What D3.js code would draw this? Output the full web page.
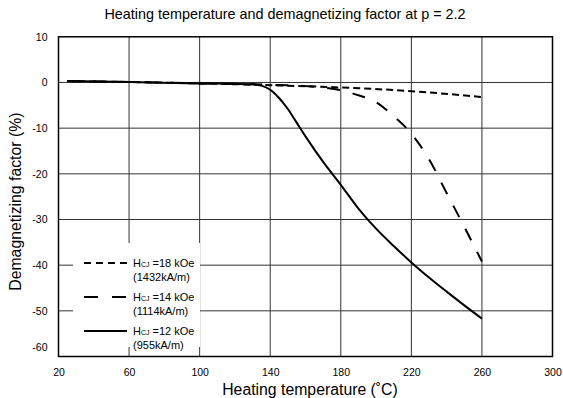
<!DOCTYPE html>
<html>
<head>
<meta charset="utf-8">
<script src="https://cdn.jsdelivr.net/npm/d3@7"></script>
<style>
  html, body { margin: 0; padding: 0; background: #fff; }
  svg { display: block; font-family: "Liberation Sans", Arial, sans-serif; }
</style>
</head>
<body>
<svg id="chart" width="563" height="398"></svg>
<script>
// ---- data ----
const xTicks = [20, 60, 100, 140, 180, 220, 260, 300];
const yTicks = [10, 0, -10, -20, -30, -40, -50, -60];

const temps18 = [25, 60, 100, 140, 180, 220, 260];
const vals18  = [0.3, 0.1, -0.2, -0.6, -1.1, -1.9, -3.2];

const temps14 = [25, 60, 100, 140, 160, 170, 180, 190, 200, 210, 220, 230, 240, 250, 260];
const vals14  = [0.3, 0.1, -0.2, -0.5, -0.8, -1.1, -1.7, -2.8, -4.3, -7.4, -11.2, -16.8, -24.2, -31.6, -39.2];

const temps12 = [25, 60, 100, 120, 130, 135, 140, 145, 150, 155, 160, 170, 180, 190, 200, 210, 220, 230, 240, 250, 260];
const vals12  = [0.3, 0.1, -0.2, -0.3, -0.4, -0.7, -1.6, -3.4, -5.8, -8.8, -11.8, -17.4, -22.4, -27.6, -32.0, -35.8, -39.4, -42.7, -45.8, -48.8, -51.7];

const legendMain = ["=18 kOe", "=14 kOe", "=12 kOe"];
const legendSub  = ["(1432kA/m)", "(1114kA/m)", "(955kA/m)"];

const title = "Heating temperature and demagnetizing factor at p = 2.2";
const xLabel = "Heating temperature (˚C)";
const yLabel = "Demagnetizing factor (%)";

// ---- layout ----
const svg = d3.select("#chart");
const L = 58.5, R = 552.5, T = 36.8, B = 356.5;

const x = d3.scaleLinear().domain([20, 300]).range([L, R]);
const y = d3.scaleLinear().domain([10, -60]).range([T, B]);

// gridlines
const grid = svg.append("g").attr("stroke", "#333").attr("stroke-width", 1);
grid.selectAll("line.v").data(xTicks.slice(1, -1)).enter().append("line")
  .attr("x1", d => x(d)).attr("x2", d => x(d)).attr("y1", T).attr("y2", B);
grid.selectAll("line.h").data(yTicks.slice(1, -1)).enter().append("line")
  .attr("x1", L).attr("x2", R).attr("y1", d => y(d)).attr("y2", d => y(d));

// legend background (covers grid)
svg.append("rect").attr("x", 73).attr("y", 243).attr("width", 127).attr("height", 104).attr("fill", "#fff");

// frame
svg.append("rect").attr("x", L).attr("y", T).attr("width", R - L).attr("height", B - T)
  .attr("fill", "none").attr("stroke", "#000").attr("stroke-width", 1.5);

// axes (labels only)
const xAxis = d3.axisBottom(x).tickValues(xTicks).tickSize(0).tickPadding(12);
const gx = svg.append("g").attr("transform", `translate(0,${B})`).call(xAxis);
gx.select(".domain").remove();
gx.selectAll("text").attr("font-size", 10.5).attr("fill", "#000").attr("font-family", "Liberation Sans, Arial, sans-serif");

const yAxis = d3.axisLeft(y).tickValues(yTicks).tickSize(0).tickPadding(11).tickFormat(d => String(d));
const gy = svg.append("g").attr("transform", `translate(${L},0)`).call(yAxis);
gy.select(".domain").remove();
gy.selectAll("text").attr("font-size", 10.5).attr("fill", "#000").attr("font-family", "Liberation Sans, Arial, sans-serif");
gy.selectAll(".tick").filter(d => d === -60).select("text").attr("dy", "-0.55em");

// titles
svg.append("text").attr("x", 285).attr("y", 19).attr("text-anchor", "middle")
  .attr("font-size", 14.4).text(title);
svg.append("text").attr("x", 310).attr("y", 395).attr("text-anchor", "middle")
  .attr("font-size", 15.8).text(xLabel);
svg.append("text").attr("transform", `translate(21,${(T + B) / 2 + 5}) rotate(-90)`)
  .attr("text-anchor", "middle").attr("font-size", 15.8).text(yLabel);

// lines
const line = d3.line().x(d => x(d[0])).y(d => y(d[1])).curve(d3.curveMonotoneX);
const series = [
  { t: temps18, v: vals18, dash: "7,4" },
  { t: temps14, v: vals14, dash: "13,13" },
  { t: temps12, v: vals12, dash: null }
];
series.forEach(s => {
  svg.append("path").datum(s.t.map((t, i) => [t, s.v[i]]))
    .attr("d", line).attr("fill", "none").attr("stroke", "#000")
    .attr("stroke-width", 2).attr("stroke-dasharray", s.dash);
});

// legend
const legendDash = ["7,5", "14,14", null];
const legY = [263, 297, 331];
legY.forEach((ly, i) => {
  svg.append("line").attr("x1", 84).attr("x2", 127).attr("y1", ly).attr("y2", ly)
    .attr("stroke", "#000").attr("stroke-width", 2).attr("stroke-dasharray", legendDash[i]);
  const t = svg.append("text").attr("x", 133).attr("y", ly + 4).attr("font-size", 11);
  t.append("tspan").text("H");
  t.append("tspan").attr("font-size", 7).text("CJ");
  t.append("tspan").attr("dx", 0).text(" " + legendMain[i]);
  svg.append("text").attr("x", 133).attr("y", ly + 18).attr("font-size", 11).text(legendSub[i]);
});
</script>
</body>
</html>
